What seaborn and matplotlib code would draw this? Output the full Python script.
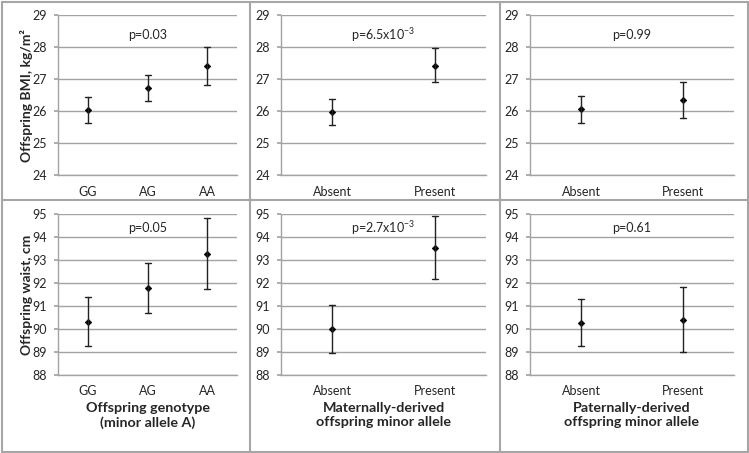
import matplotlib
matplotlib.use("Agg")
import matplotlib.pyplot as plt
from matplotlib.lines import Line2D
import pandas as pd
import seaborn as sns

# group labels
geno = ["GG", "AG", "AA"]
carrier = ["Absent", "Present"]

# offspring BMI, kg/m2: estimate with lower / upper CI
bmi_geno = [26.03, 26.73, 27.42]
bmi_geno_lo = [25.62, 26.31, 26.81]
bmi_geno_hi = [26.45, 27.13, 28.01]

bmi_mat = [25.98, 27.42]
bmi_mat_lo = [25.56, 26.90]
bmi_mat_hi = [26.39, 27.96]

bmi_pat = [26.05, 26.34]
bmi_pat_lo = [25.63, 25.77]
bmi_pat_hi = [26.46, 26.90]

# offspring waist, cm
waist_geno = [90.32, 91.81, 93.28]
waist_geno_lo = [89.26, 90.71, 91.74]
waist_geno_hi = [91.38, 92.87, 94.83]

waist_mat = [90.00, 93.55]
waist_mat_lo = [88.97, 92.19]
waist_mat_hi = [91.03, 94.93]

waist_pat = [90.28, 90.41]
waist_pat_lo = [89.25, 88.99]
waist_pat_hi = [91.30, 91.83]

p_bmi = ["p=0.03", "p=6.5x10$^{-3}$", "p=0.99"]
p_waist = ["p=0.05", "p=2.7x10$^{-3}$", "p=0.61"]

col_titles = ["Offspring genotype\n(minor allele A)",
              "Maternally-derived\noffspring minor allele",
              "Paternally-derived\noffspring minor allele"]

sns.set_theme(style="white")
plt.rcParams["font.family"] = ["Lato", "DejaVu Sans"]
plt.rcParams["mathtext.fontset"] = "custom"
plt.rcParams["mathtext.rm"] = "Lato"
plt.rcParams["mathtext.it"] = "Lato"


def long_df(cats, mid, lo, hi):
    # three rows per group: lower, estimate, upper
    rows = []
    for c, m, l, h in zip(cats, mid, lo, hi):
        rows += [(c, l), (c, m), (c, h)]
    return pd.DataFrame(rows, columns=["group", "value"])


fig = plt.figure(figsize=(7.49, 4.53), dpi=100)
W, H = 749, 453

cols = [(58, 237), (281, 486), (530, 734)]
rows = [(15, 175, 24, 29), (214.3, 375, 88, 95)]

panels = [
    [(geno, bmi_geno, bmi_geno_lo, bmi_geno_hi),
     (carrier, bmi_mat, bmi_mat_lo, bmi_mat_hi),
     (carrier, bmi_pat, bmi_pat_lo, bmi_pat_hi)],
    [(geno, waist_geno, waist_geno_lo, waist_geno_hi),
     (carrier, waist_mat, waist_mat_lo, waist_mat_hi),
     (carrier, waist_pat, waist_pat_lo, waist_pat_hi)],
]
pvals = [p_bmi, p_waist]
ylabels = ["Offspring BMI, kg/m²", "Offspring waist, cm"]
grey = "#a3a3a3"

for r, (top, bot, y0, y1) in enumerate(rows):
    for c, (left, right) in enumerate(cols):
        ax = fig.add_axes([left / W, 1 - bot / H, (right - left) / W, (bot - top) / H])
        cats, mid, lo, hi = panels[r][c]
        df = long_df(cats, mid, lo, hi)
        n = len(cats)
        cap = 6.0 / ((right - left) / n)
        sns.pointplot(data=df, x="group", y="value", order=cats,
                      estimator="median", errorbar=lambda v: (v.min(), v.max()),
                      linestyle="none", marker="D", markersize=3.3,
                      markeredgewidth=0.5, color="black", capsize=cap,
                      err_kws={"linewidth": 1.0, "color": "#222222"}, ax=ax)
        ax.set_xlim(-0.5, n - 0.5)
        ax.set_ylim(y0, y1)
        ax.set_yticks(range(y0, y1 + 1))
        ax.yaxis.grid(True, color=grey, linewidth=1.0)
        ax.xaxis.grid(False)
        ax.set_axisbelow(True)
        for s in ["top", "right"]:
            ax.spines[s].set_visible(False)
        for s in ["left", "bottom"]:
            ax.spines[s].set_color(grey)
            ax.spines[s].set_linewidth(1.0)
        ax.tick_params(axis="y", length=3, color=grey, labelsize=9, pad=5, left=True)
        ax.tick_params(axis="x", length=0, labelsize=9, pad=8 if r == 0 else 7)
        ax.set_xlabel("")
        ax.set_ylabel("")
        ax.text((n - 1) / 2, 28.37 if r == 0 else 94.4, pvals[r][c],
                ha="center", va="center", fontsize=9)
        if c == 0:
            ax.set_ylabel(ylabels[r], fontsize=10, fontweight="bold")
            ax.yaxis.set_label_coords(-0.14, 0.5)
        if r == 1:
            ax.set_xlabel(col_titles[c], fontsize=10.3, fontweight="bold", linespacing=1.15)
            ax.xaxis.set_label_coords(0.5, -0.17)
            ax.xaxis.label.set_va("top")

# panel frames
frame = "#a6a6a6"
for x in [1.5, 249.5, 500, 747.5]:
    fig.add_artist(Line2D([x / W, x / W], [1 - 451.5 / H, 1 - 1.5 / H], color=frame, lw=1.5))
for y in [1.5, 200, 451.5]:
    fig.add_artist(Line2D([1.5 / W, 747.5 / W], [1 - y / H, 1 - y / H], color=frame, lw=1.5))

fig.savefig("out.png", dpi=100)
